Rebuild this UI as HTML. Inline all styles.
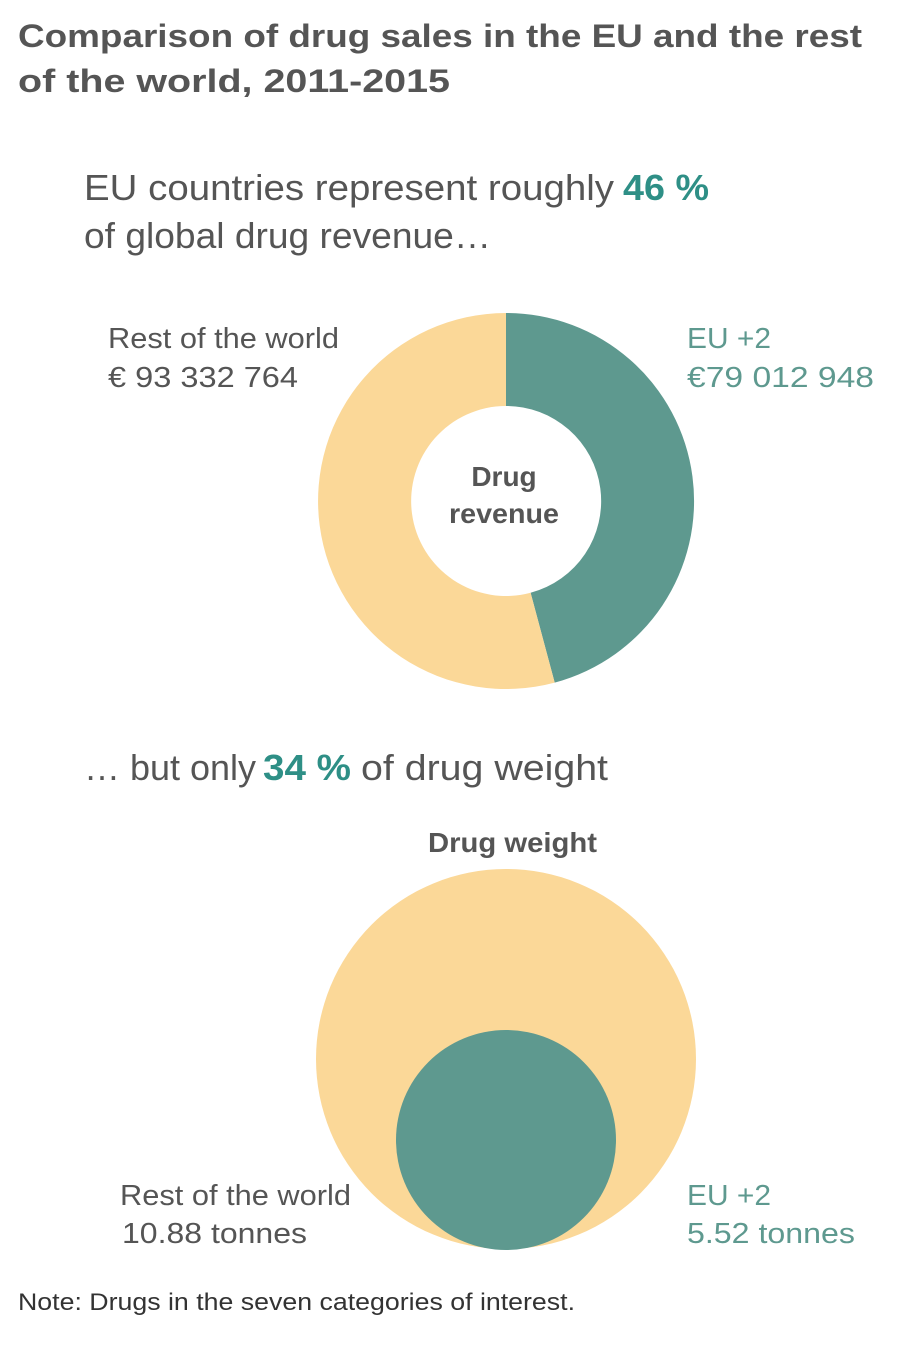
<!DOCTYPE html>
<html><head><meta charset="utf-8"><style>
html,body{margin:0;padding:0;background:#fff;}
svg{display:block;}
text{font-family:"Liberation Sans",sans-serif;}
</style></head><body>
<svg width="910" height="1350" viewBox="0 0 910 1350" xmlns="http://www.w3.org/2000/svg">
<g fill="#555" font-weight="bold" font-size="32">
<text x="18" y="47" textLength="844" lengthAdjust="spacingAndGlyphs">Comparison of drug sales in the EU and the rest</text>
<text x="18" y="92" textLength="432" lengthAdjust="spacingAndGlyphs">of the world, 2011-2015</text>
</g>
<g fill="#555" font-size="36">
<text x="84" y="200" textLength="530" lengthAdjust="spacingAndGlyphs">EU countries represent roughly</text>
<text x="623" y="200" fill="#2e8f86" font-weight="bold" textLength="86" lengthAdjust="spacingAndGlyphs">46 %</text>
<text x="84" y="248" textLength="407" lengthAdjust="spacingAndGlyphs">of global drug revenue…</text>
</g>
<g font-size="29">
<text x="108" y="348" fill="#555" textLength="231" lengthAdjust="spacingAndGlyphs">Rest of the world</text>
<text x="108" y="387" fill="#555" textLength="190" lengthAdjust="spacingAndGlyphs">€ 93 332 764</text>
<text x="687" y="348" fill="#5e998f" textLength="84" lengthAdjust="spacingAndGlyphs">EU +2</text>
<text x="687" y="387" fill="#5e998f" textLength="187" lengthAdjust="spacingAndGlyphs">€79 012 948</text>
</g>
<path d="M506 313 A188 188 0 0 1 554.7 682.6 L530.6 592.8 A95 95 0 0 0 506 406 Z" fill="#5e998f"/>
<path d="M554.7 682.6 A188 188 0 1 1 506 313 L506 406 A95 95 0 1 0 530.6 592.8 Z" fill="#fbd898"/>
<g fill="#555" font-weight="bold" font-size="28" text-anchor="middle">
<text x="504" y="486">Drug</text>
<text x="504" y="523" textLength="110" lengthAdjust="spacingAndGlyphs">revenue</text>
</g>
<g fill="#555" font-size="36">
<text x="84" y="780" textLength="172" lengthAdjust="spacingAndGlyphs">… but only</text>
<text x="263" y="780" fill="#2e8f86" font-weight="bold" textLength="88" lengthAdjust="spacingAndGlyphs">34 %</text>
<text x="361" y="780" textLength="247" lengthAdjust="spacingAndGlyphs">of drug weight</text>
</g>
<text x="428" y="852" fill="#555" font-weight="bold" font-size="28" textLength="169" lengthAdjust="spacingAndGlyphs">Drug weight</text>
<circle cx="506" cy="1059" r="190" fill="#fbd898"/>
<circle cx="506" cy="1140" r="110" fill="#5e998f"/>
<g font-size="29">
<text x="120" y="1205" fill="#555" textLength="231" lengthAdjust="spacingAndGlyphs">Rest of the world</text>
<text x="122" y="1243" fill="#555" textLength="185" lengthAdjust="spacingAndGlyphs">10.88 tonnes</text>
<text x="687" y="1205" fill="#5e998f" textLength="84" lengthAdjust="spacingAndGlyphs">EU +2</text>
<text x="687" y="1243" fill="#5e998f" textLength="168" lengthAdjust="spacingAndGlyphs">5.52 tonnes</text>
</g>
<text x="18" y="1310" fill="#333" font-size="24" textLength="557" lengthAdjust="spacingAndGlyphs">Note: Drugs in the seven categories of interest.</text>
</svg>
</body></html>
